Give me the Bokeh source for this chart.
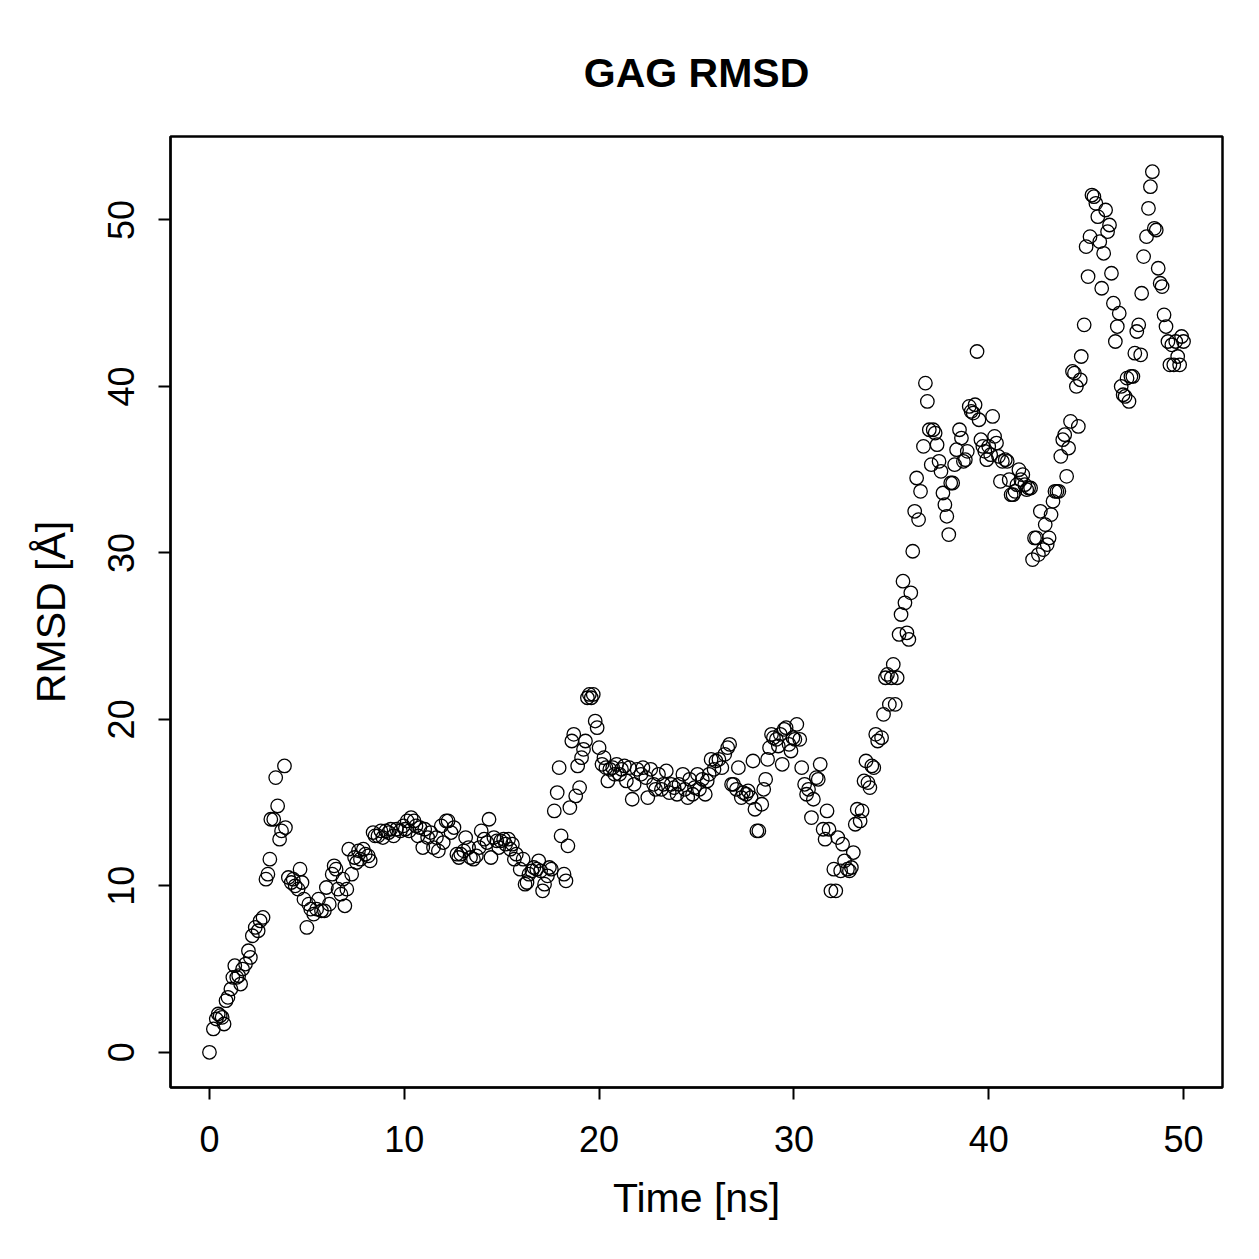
from bokeh.plotting import figure
from bokeh.models import Range1d, FixedTicker
from bokeh.embed import file_html
from bokeh.resources import INLINE

time_ns = [0.0,0.2,0.35,0.45,0.55,0.65,0.75,0.85,0.95,1.1,1.2,1.3,1.4,1.5,1.6,1.7,1.85,2.0,2.1,2.2,2.35,2.5,2.6,2.75,2.9,3.0,3.1,3.15,3.3,3.4,3.5,3.6,3.7,3.85,3.9,4.05,4.2,4.3,4.4,4.55,4.65,4.75,4.85,5.0,5.1,5.2,5.35,5.5,5.6,5.75,5.9,6.0,6.15,6.3,6.4,6.5,6.6,6.75,6.85,6.95,7.05,7.15,7.3,7.45,7.55,7.65,7.75,7.9,8.0,8.15,8.25,8.4,8.5,8.65,8.8,8.9,9.05,9.2,9.3,9.45,9.6,9.8,9.95,10.05,10.15,10.25,10.35,10.5,10.6,10.7,10.8,10.95,11.05,11.2,11.35,11.5,11.65,11.75,11.9,12.0,12.15,12.25,12.4,12.55,12.7,12.8,12.9,13.05,13.15,13.3,13.4,13.55,13.7,13.85,13.95,14.1,14.25,14.35,14.45,14.6,14.75,14.85,14.95,15.1,15.2,15.35,15.45,15.55,15.65,15.75,15.95,16.1,16.2,16.3,16.4,16.55,16.65,16.8,16.9,17.0,17.1,17.2,17.35,17.45,17.55,17.7,17.85,17.95,18.05,18.2,18.3,18.4,18.5,18.6,18.7,18.8,18.9,19.0,19.1,19.2,19.3,19.4,19.5,19.6,19.7,19.8,19.9,20.0,20.15,20.25,20.35,20.45,20.55,20.7,20.8,20.9,21.05,21.15,21.3,21.4,21.55,21.7,21.8,21.95,22.15,22.25,22.4,22.5,22.65,22.8,22.9,23.05,23.2,23.3,23.45,23.6,23.7,23.85,24.0,24.1,24.3,24.4,24.55,24.65,24.8,24.9,25.05,25.15,25.3,25.45,25.55,25.65,25.75,25.9,26.0,26.15,26.3,26.45,26.6,26.7,26.8,26.9,27.05,27.15,27.3,27.4,27.55,27.65,27.8,27.9,28.0,28.1,28.2,28.35,28.45,28.55,28.65,28.75,28.85,28.95,29.1,29.2,29.3,29.4,29.5,29.6,29.75,29.85,29.95,30.05,30.15,30.3,30.4,30.55,30.65,30.75,30.9,31.0,31.15,31.25,31.35,31.5,31.6,31.7,31.8,31.9,32.05,32.15,32.25,32.4,32.5,32.6,32.75,32.85,32.95,33.05,33.15,33.25,33.4,33.5,33.6,33.7,33.8,33.9,34.0,34.1,34.2,34.3,34.5,34.6,34.7,34.8,34.9,35.0,35.1,35.2,35.3,35.4,35.5,35.6,35.7,35.8,35.9,36.0,36.1,36.2,36.3,36.4,36.5,36.65,36.75,36.85,36.95,37.05,37.15,37.25,37.35,37.45,37.55,37.65,37.75,37.85,37.95,38.05,38.15,38.25,38.35,38.5,38.6,38.7,38.8,38.9,39.0,39.1,39.2,39.3,39.4,39.5,39.6,39.7,39.8,39.9,40.0,40.1,40.2,40.3,40.4,40.5,40.6,40.7,40.85,40.95,41.05,41.15,41.25,41.35,41.45,41.55,41.65,41.75,41.85,41.95,42.05,42.15,42.25,42.35,42.45,42.55,42.65,42.8,42.9,43.0,43.1,43.2,43.3,43.4,43.5,43.6,43.7,43.8,43.9,44.0,44.1,44.2,44.3,44.4,44.5,44.6,44.7,44.75,44.9,45.0,45.1,45.2,45.3,45.4,45.5,45.6,45.7,45.8,45.9,46.0,46.1,46.2,46.3,46.4,46.5,46.6,46.7,46.8,46.9,47.0,47.1,47.2,47.3,47.4,47.5,47.6,47.7,47.8,47.85,47.95,48.1,48.2,48.3,48.4,48.5,48.6,48.7,48.8,48.9,49.0,49.1,49.2,49.3,49.4,49.5,49.6,49.7,49.8,49.9,50.0]

rmsd = [0.0,1.4,2.0,2.3,2.2,2.1,1.7,3.1,3.3,3.8,4.5,5.2,4.5,4.6,4.1,5.0,5.3,6.1,5.7,7.0,7.5,7.3,7.9,8.1,10.4,10.7,11.6,14.0,14.0,16.5,14.8,12.8,13.3,17.2,13.5,10.5,10.2,10.4,10.0,9.8,11.0,10.2,9.2,7.5,8.9,8.6,8.3,8.6,9.2,8.5,8.5,9.9,8.9,10.7,11.2,11.0,9.8,9.5,10.4,8.8,9.8,12.2,10.7,11.7,11.4,12.1,11.6,12.2,11.9,11.8,11.5,13.2,13.0,13.0,13.3,12.9,13.3,13.2,13.4,13.0,13.4,13.3,13.6,13.4,13.9,13.3,14.1,13.9,13.6,13.0,13.5,12.3,13.4,12.9,13.2,12.3,12.9,12.1,13.6,12.6,13.9,13.9,13.2,13.5,11.9,11.7,11.9,12.1,12.9,12.3,11.7,11.6,11.8,12.3,13.3,12.8,12.6,14.0,11.7,12.9,12.7,12.3,12.7,12.8,12.5,12.8,12.2,12.5,11.6,11.9,11.0,11.6,10.1,10.2,10.7,10.9,11.1,11.0,11.5,10.9,9.7,10.1,10.6,11.1,11.0,14.5,15.6,17.1,13.0,10.7,10.3,12.4,14.7,18.7,19.1,15.4,17.2,15.9,17.7,18.2,18.7,21.3,21.5,21.3,21.5,19.9,19.5,18.3,17.3,17.7,17.1,16.3,17.0,17.1,16.7,17.3,16.7,17.0,17.2,16.3,17.1,15.2,16.1,17.0,16.7,17.1,16.5,15.3,17.0,16.1,15.8,16.7,15.8,16.1,16.9,15.6,16.1,15.9,15.5,16.1,16.7,15.8,15.3,16.4,15.5,15.9,16.7,15.8,16.4,15.5,16.3,16.7,17.6,17.0,17.5,17.6,17.1,17.9,18.3,18.5,16.1,16.1,15.8,17.1,15.3,15.6,15.5,15.7,15.3,17.5,14.6,13.3,13.3,14.9,15.8,16.4,17.6,18.3,19.1,18.9,18.8,18.4,19.1,17.3,19.4,19.5,18.5,18.1,18.9,18.8,19.7,18.8,17.1,16.1,15.5,15.8,14.1,15.2,16.5,16.4,17.3,13.4,12.8,14.5,13.4,9.7,11.0,9.7,12.9,10.9,12.5,11.5,11.0,10.9,11.1,12.0,13.7,14.6,13.9,14.5,16.3,17.5,16.2,15.9,17.2,17.1,19.1,18.7,18.9,20.3,22.5,22.7,20.9,22.5,23.3,20.9,22.5,25.1,26.3,28.3,27.0,25.2,24.8,27.6,30.1,32.5,34.5,32.0,33.7,36.4,40.2,39.1,37.4,35.3,37.4,37.2,36.5,35.5,34.9,33.6,32.9,32.2,31.1,34.2,34.2,35.3,36.2,37.4,36.9,35.5,35.6,36.1,38.8,38.5,38.4,38.9,42.1,38.0,36.8,36.4,36.1,35.6,36.4,35.9,38.2,37.0,36.6,35.8,34.3,35.5,35.6,35.5,34.4,33.5,33.5,33.7,34.1,35.0,34.4,34.7,34.1,33.8,33.9,33.9,29.6,30.9,30.9,29.9,32.5,30.2,31.7,30.5,30.9,32.3,33.1,33.7,33.7,33.7,35.8,36.8,37.1,34.6,36.3,37.9,40.9,40.8,40.0,37.6,40.4,41.8,43.7,48.4,46.6,49.0,51.5,51.4,51.0,50.2,48.7,45.9,48.0,50.6,49.3,49.7,46.8,45.0,42.7,43.6,44.4,40.0,39.5,39.4,40.5,39.1,40.6,40.6,42.0,43.3,43.7,41.9,45.6,47.8,49.0,50.7,52.0,52.9,49.5,49.4,47.1,46.2,46.0,44.3,43.6,42.7,41.3,42.5,41.3,42.7,41.8,41.3,43.0,42.7]

x_ticks = [0, 10, 20, 30, 40, 50]
y_ticks = [0, 10, 20, 30, 40, 50]

FONT = "Liberation Sans"

p = figure(width=1259, height=1259, output_backend="svg", toolbar_location=None,
           x_range=Range1d(-2, 52), y_range=Range1d(-2.116, 55.016),
           min_border_left=170, min_border_right=37, min_border_top=136, min_border_bottom=172)

p.scatter(time_ns, rmsd, marker="circle", size=13.5, fill_color=None,
          line_color="black", line_width=1.3)

p.grid.visible = False
p.outline_line_color = "black"
p.outline_line_width = 2.5
p.background_fill_color = "white"
p.border_fill_color = "white"

p.title.text = "GAG RMSD"
p.title.align = "center"
p.title.text_font = FONT
p.title.text_font_size = "41px"
p.title.text_font_style = "bold"
p.title.text_color = "black"
p.title.standoff = 82

for ax in (p.xaxis[0], p.yaxis[0]):
    ax.axis_line_color = "black"
    ax.axis_line_width = 2
    ax.major_tick_line_width = 2
    ax.major_tick_in = 0
    ax.major_tick_out = 12
    ax.minor_tick_line_color = None
    ax.major_label_text_font = FONT
    ax.major_label_text_font_size = "36px"
    ax.major_label_text_color = "black"
    ax.axis_label_text_font = FONT
    ax.axis_label_text_font_size = "41px"
    ax.axis_label_text_font_style = "normal"
    ax.axis_label_text_color = "black"

p.xaxis.ticker = FixedTicker(ticks=x_ticks)
p.yaxis.ticker = FixedTicker(ticks=y_ticks)
p.xaxis.axis_label = "Time [ns]"
p.yaxis.axis_label = "RMSD [Å]"
p.xaxis.major_label_standoff = 26
p.xaxis.axis_label_standoff = 20
p.yaxis.major_label_orientation = "vertical"
p.yaxis.major_label_standoff = 24
p.yaxis.axis_label_standoff = 32

open("out.html", "w").write(file_html(p, INLINE))
